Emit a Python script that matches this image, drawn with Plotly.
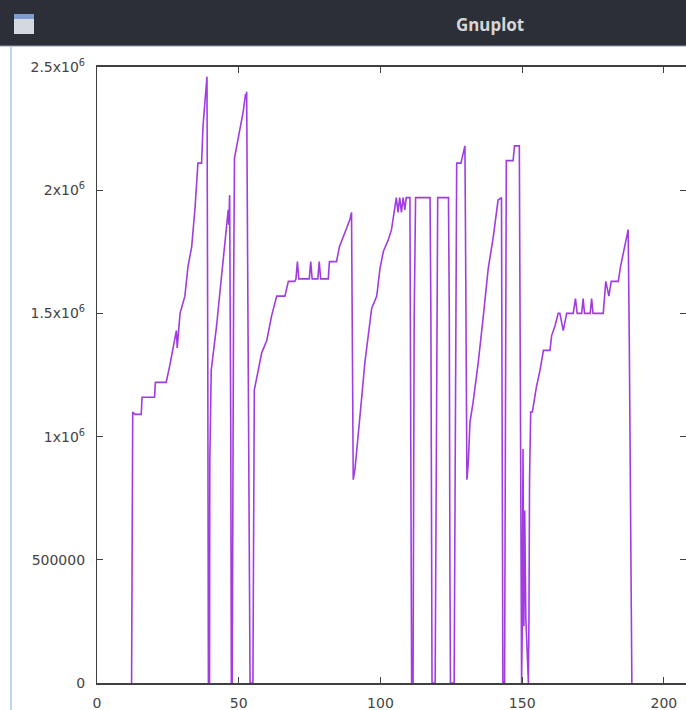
import plotly.graph_objects as go

# ---- data (x = sample index, y = value) ----
x_vals = [12.2, 12.3, 12.4, 12.6, 13.4, 15.6, 15.9, 20.3, 20.6, 24.4, 25.7, 27.5, 28.0, 28.3, 28.7,
          29.3, 31.0, 32.1, 33.4, 34.6, 35.6, 36.9, 37.4, 38.4, 38.8, 39.1, 39.2, 39.3, 39.7, 39.8, 40.3,
          42.2, 43.4, 44.5, 45.7, 46.3, 46.5, 46.8, 47.2, 47.3, 47.4, 47.7, 47.8, 47.9, 48.2, 48.5,
          49.9, 51.6, 52.4, 52.6, 52.8, 53.0, 53.3, 53.6, 53.8, 54.0, 55.0, 55.1, 55.2, 55.5,
          56.9, 58.1, 59.9, 61.6, 63.4, 66.3, 67.5, 69.8, 70.2, 70.7, 71.2, 74.9, 75.4, 75.9, 77.9,
          78.4, 78.9, 81.6, 82.0, 84.5, 85.5, 87.5, 89.2, 89.8, 90.2, 90.4, 91.0, 91.6, 92.2, 93.4,
          94.5, 95.7, 96.9, 98.7, 99.8, 101.0, 102.8, 103.9, 105.1, 105.6, 106.2, 106.8, 107.4, 108.0,
          108.6, 109.1, 110.4, 110.6, 110.8, 111.0, 111.5, 111.7, 111.9, 112.4, 117.5, 117.8, 118.0,
          118.2, 119.3, 119.5, 119.8, 120.2, 124.0, 124.3, 124.5, 124.7, 126.0, 126.2, 126.6, 126.9,
          128.4, 129.3, 129.8, 130.0, 130.3, 130.5, 131.0, 131.6, 132.7, 134.5, 136.3, 138.0, 139.8,
          141.5, 142.7, 143.0, 143.1, 143.2, 143.8, 144.0, 144.2, 144.4, 146.8, 147.3, 149.0, 149.2,
          149.4, 149.8, 150.0, 150.3, 150.6, 150.9, 151.3, 152.2, 152.4, 152.6, 153.0, 153.6, 155.0,
          156.3, 157.5, 159.8, 160.4, 161.6, 162.7, 163.3, 164.5, 165.7, 168.0, 168.8, 169.4, 171.0,
          171.5, 172.0, 174.0, 174.5, 175.0, 178.6, 179.5, 180.6, 181.4, 183.9, 184.7, 185.9, 186.8,
          187.4, 187.8, 188.3, 188.7]
y_vals = [0, 270000, 820000, 1100000, 1090000, 1090000, 1160000, 1160000, 1220000, 1220000, 1290000,
          1390000, 1430000, 1360000, 1410000,
          1500000, 1570000, 1690000, 1770000, 1930000, 2110000, 2110000, 2260000, 2410000, 2460000,
          1230000, 300000, 0, 0, 900000, 1270000,
          1450000, 1590000, 1720000, 1850000, 1920000, 1860000, 1980000, 990000, 530000, 0, 0, 530000,
          990000, 1600000, 2130000,
          2220000, 2320000, 2390000, 2370000, 2400000, 2030000, 1310000, 720000, 240000, 0, 0, 240000,
          880000, 1190000,
          1270000, 1340000, 1390000, 1490000, 1570000, 1570000, 1630000, 1630000, 1640000, 1710000,
          1640000, 1640000, 1710000, 1640000, 1640000,
          1710000, 1640000, 1640000, 1710000, 1710000, 1770000, 1830000, 1880000, 1910000, 1370000,
          825000, 866000, 935000, 1030000, 1160000,
          1300000, 1420000, 1520000, 1570000, 1680000, 1750000, 1800000, 1840000, 1930000, 1970000,
          1910000, 1970000, 1910000, 1970000,
          1920000, 1970000, 1970000, 1480000, 490000, 0, 0, 490000, 1480000, 1970000, 1970000, 1480000,
          490000,
          0, 0, 490000, 1480000, 1970000, 1970000, 1480000, 490000, 0, 0, 530000, 1590000, 2110000,
          2110000, 2150000, 2180000, 1840000, 1000000, 825000, 895000, 1060000, 1140000, 1300000,
          1490000, 1680000, 1810000,
          1960000, 1970000, 990000, 530000, 0, 0, 530000, 990000, 2120000, 2120000, 2180000, 2180000,
          1640000,
          550000, 0, 200000, 950000, 230000, 700000, 260000, 0, 270000, 820000, 1100000, 1100000, 1200000,
          1270000, 1350000, 1350000, 1410000, 1450000, 1500000, 1500000, 1430000, 1500000, 1500000,
          1560000, 1500000, 1500000,
          1560000, 1500000, 1500000, 1560000, 1500000, 1500000, 1630000, 1570000, 1630000, 1630000,
          1690000, 1760000, 1800000,
          1840000, 1380000, 460000, 0]

y_tick_vals = [0, 500000, 1000000, 1500000, 2000000, 2500000]
y_tick_text = ["0", "500000", "1x10<sup>6</sup>", "1.5x10<sup>6</sup>", "2x10<sup>6</sup>", "2.5x10<sup>6</sup>"]
x_tick_vals = [0, 50, 100, 150, 200]
x_tick_text = ["0", "50", "100", "150", "200"]

W, H = 686, 710
L, R, T, B = 97, 0, 67, 27
PW, PH = W - L - R, H - T - B


def px(xp):
    return (xp - L) / PW


def py(yp):
    return (H - B - yp) / PH


fig = go.Figure()
fig.add_trace(go.Scatter(x=x_vals, y=y_vals, mode="lines",
                         line=dict(color="#a03ce0", width=1.6), showlegend=False,
                         hoverinfo="skip"))

axis_font = dict(family="DejaVu Sans", size=14, color="#444444")
fig.update_xaxes(range=[0, 207.8], tickvals=x_tick_vals, ticktext=x_tick_text,
                 ticks="inside", ticklen=6, tickcolor="#404040", showline=True,
                 linecolor="#404040", linewidth=1.5, mirror="ticks", showgrid=False,
                 zeroline=False, tickfont=axis_font, ticklabelstandoff=6,
                 layer="above traces")
fig.update_yaxes(range=[0, 2500000], tickvals=y_tick_vals, ticktext=y_tick_text,
                 ticks="inside", ticklen=6, tickcolor="#404040", showline=True,
                 linecolor="#404040", linewidth=1.2, mirror="ticks", showgrid=False,
                 zeroline=False, tickfont=axis_font, ticklabelstandoff=8,
                 layer="above traces")

shapes = [
    # window title bar
    dict(type="rect", xref="paper", yref="paper", x0=px(-2), x1=px(690), y0=py(46), y1=py(-2),
         fillcolor="#2c2f38", line=dict(width=0), layer="above"),
    dict(type="line", xref="paper", yref="paper", x0=px(0), x1=px(690), y0=py(46), y1=py(46),
         line=dict(color="#8a96a8", width=1), layer="above"),
    # title bar icon
    dict(type="rect", xref="paper", yref="paper", x0=px(14), x1=px(34), y0=py(34), y1=py(14),
         fillcolor="#d4d8e0", line=dict(width=0), layer="above"),
    dict(type="rect", xref="paper", yref="paper", x0=px(14), x1=px(34), y0=py(19), y1=py(14),
         fillcolor="#7f9cd0", line=dict(width=0), layer="above"),
    # window left edge
    dict(type="line", xref="paper", yref="paper", x0=px(11), x1=px(11), y0=py(47), y1=py(712),
         line=dict(color="#a9c6e6", width=1.5), layer="above"),
]

fig.update_layout(
    width=W, height=H,
    margin=dict(l=L, r=R, t=T, b=B, pad=0),
    paper_bgcolor="white", plot_bgcolor="white",
    shapes=shapes,
    annotations=[dict(text="<b>Gnuplot</b>", xref="paper", yref="paper", x=px(490), y=py(24),
                      showarrow=False, xanchor="center", yanchor="middle",
                      font=dict(family="Noto Sans", size=17, color="#d6d6d6"))],
)

fig.write_html("out.html")
